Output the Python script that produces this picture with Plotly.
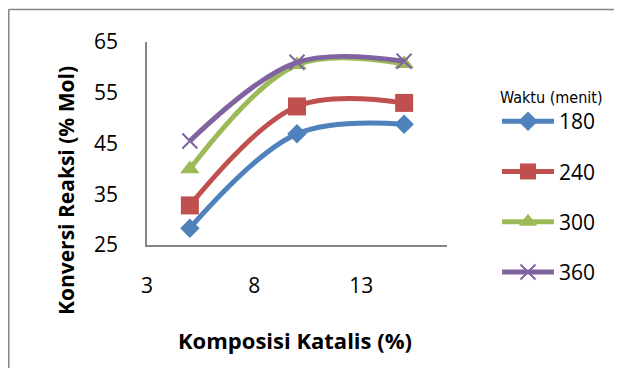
import plotly.graph_objects as go

katalis = [5, 10, 15]
series_names = ["180", "240", "300", "360"]
konv_180 = [28.3, 46.9, 48.8]
konv_240 = [32.8, 52.3, 53.0]
konv_300 = [40.0, 60.5, 60.7]
konv_360 = [45.5, 61.0, 61.2]
x_ticks = [3, 8, 13]
y_ticks = [25, 35, 45, 55, 65]

colors = ["#4F81BD", "#C0504D", "#9BBB59", "#8064A2"]
symbols = ["diamond", "square", "triangle-up", "x-thin"]
sizes = [15, 18, 17, 15]
values = [konv_180, konv_240, konv_300, konv_360]

# page body has an 8px margin; figure coords = screen coords - 8
W, H = 606, 360
L, T = 139, 34
AX_BOTTOM, AX_RIGHT = 237, 439
R, B = W - AX_RIGHT, H - AX_BOTTOM
pw, ph = AX_RIGHT - L, AX_BOTTOM - T

def px(fx):
    return (fx - L) / pw

def py(fy):
    return (AX_BOTTOM - fy) / ph

fig = go.Figure()
for i, (name, vals) in enumerate(zip(series_names, values)):
    mk = dict(symbol=symbols[i], size=sizes[i], color=colors[i])
    if symbols[i] == "x-thin":
        mk["line"] = dict(color=colors[i], width=2)
    fig.add_trace(go.Scatter(
        x=katalis, y=vals, name=name, mode="lines+markers",
        line=dict(color=colors[i], width=5, shape="spline", smoothing=1.0),
        marker=mk, legendgroup=name,
    ))

fnt = "'Open Sans', Lato, Arial, sans-serif"
fig.update_layout(
    width=W, height=H,
    margin=dict(l=L, r=R, t=T, b=B, autoexpand=False),
    paper_bgcolor="white", plot_bgcolor="white",
    font=dict(family=fnt, color="black", size=21),
    showlegend=True,
    legend=dict(
        xref="container", yref="container",
        x=489 / W, xanchor="left",
        y=1 - 93 / H, yanchor="top",
        font=dict(size=21, family=fnt),
        itemwidth=52, tracegroupgap=20,
        maxheight=330,
        bgcolor="rgba(0,0,0,0)",
    ),
    xaxis=dict(
        range=[3, 17], tickvals=x_ticks, showgrid=False, zeroline=False,
        showline=True, linecolor="#868686", linewidth=1.5,
        ticks="", ticklabelstandoff=21,
    ),
    yaxis=dict(
        range=[25, 65], tickvals=y_ticks, showgrid=False, zeroline=False,
        showline=True, linecolor="#868686", linewidth=1.5,
        ticks="", ticklabelstandoff=23,
    ),
    annotations=[
        dict(
            text="Waktu (menit)", xref="paper", yref="paper",
            x=px(543), y=py(89), xanchor="center", yanchor="middle",
            showarrow=False,
            font=dict(size=16, family="Liberation Sans Narrow, DejaVu Sans Condensed, sans-serif"),
        ),
        dict(
            text="<b>Komposisi Katalis (%)</b>", xref="paper", yref="paper",
            x=px(287), y=py(332), xanchor="center", yanchor="middle",
            showarrow=False, font=dict(size=22, family=fnt),
        ),
        dict(
            text="<b>Konversi Reaksi (% Mol)</b>", xref="paper", yref="paper",
            x=px(58), y=py(183), xanchor="center", yanchor="middle",
            showarrow=False, textangle=-90, font=dict(size=21, family=fnt),
        ),
    ],
    shapes=[
        dict(type="line", xref="paper", yref="paper",
             x0=px(0.5), x1=px(W), y0=py(1.5), y1=py(1.5),
             line=dict(color="#868686", width=1.5)),
        dict(type="line", xref="paper", yref="paper",
             x0=px(0.75), x1=px(0.75), y0=py(1.5), y1=py(H),
             line=dict(color="#868686", width=1.5)),
    ],
)

fig.write_html("out.html")
